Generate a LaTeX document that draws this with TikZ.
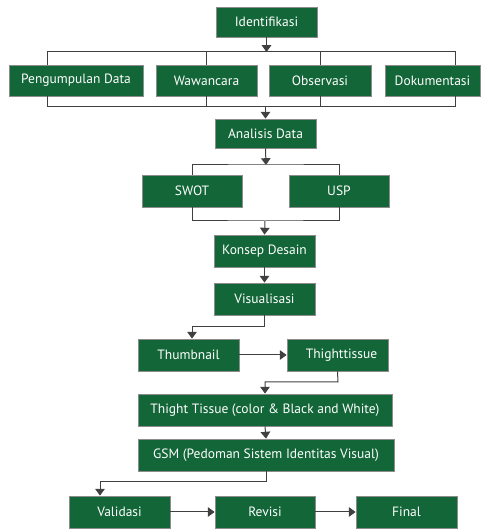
\documentclass[tikz,border=0pt]{standalone}
\usepackage{xcolor}
\usepackage{fontspec}
\setmainfont{PT Sans}
\usetikzlibrary{arrows.meta,calc,positioning}

\begin{document}
\begin{tikzpicture}[
    box/.style={draw=black!45, line width=0.02cm, fill=r16g100b55, text=white,
                minimum height=0.8cm, inner sep=0pt},
    conn/.style={draw=black!75, line width=0.025cm},
    arr/.style={-{Triangle[width=0.24cm,length=0.17cm]}}]
                    \useasboundingbox (0,0) rectangle (12.000000,13.275000);
                    % Changing color 16 100 55
                    \definecolor{r16g100b55}{rgb}{0.070000,0.400000,0.220000}%
                    {\fontsize{9.6}{11}\selectfont

                    % Marking box Identifikasi
                    \node [box, minimum width=2.525cm, minimum height=0.75cm] (ident) at (6.662500,12.725000) {Identifikasi};%

                    % Marking boxes of the data row
                    \node [box, minimum width=3.350000cm, minimum height=0.775cm] (kumpul) at (1.900000,11.262500) {Pengumpulan Data};%
                    \node [box, minimum width=2.525000cm, minimum height=0.775cm] (wawan) at (5.162500,11.262500) {Wawancara};%
                    \node [box, minimum width=2.550000cm, minimum height=0.775cm] (obs) at (8.000000,11.262500) {Observasi};%
                    \node [box, minimum width=2.375000cm, minimum height=0.775cm] (doku) at (10.812500,11.262500) {Dokumentasi};%

                    % Marking box Analisis Data
                    \node [box, minimum width=2.525000cm, minimum height=0.725cm] (analisis) at (6.637500,9.937500) {Analisis Data};%

                    % Marking boxes SWOT and USP
                    \node [box, minimum width=2.500000cm] (swot) at (4.800000,8.500000) {SWOT};%
                    \node [box, minimum width=2.500000cm] (usp) at (8.475000,8.500000) {USP};%

                    % Marking boxes Konsep Desain and Visualisasi
                    \node [box, minimum width=2.525000cm] (konsep) at (6.612500,7.000000) {Konsep Desain};%
                    \node [box, minimum width=2.525000cm] (visual) at (6.612500,5.800000) {Visualisasi};%

                    % Marking boxes Thumbnail and Thighttissue
                    \node [box, minimum width=2.525000cm] (thumb) at (4.712500,4.400000) {Thumbnail};%
                    \node [box, minimum width=2.525000cm] (tissue) at (8.437500,4.400000) {\hspace{0.2cm}Thighttissue};%

                    % Marking boxes Thight Tissue and GSM
                    \node [box, minimum width=6.350000cm] (warna) at (6.625000,3.025000) {Thight Tissue (color \& Black and White)};%
                    \node [box, minimum width=6.400000cm] (gsm) at (6.650000,1.900000) {GSM (Pedoman Sistem Identitas Visual)};%

                    % Marking boxes Validasi, Revisi and Final
                    \node [box, minimum width=2.525000cm] (valid) at (2.987500,0.475000) {Validasi};%
                    \node [box, minimum width=2.500000cm] (revisi) at (6.625000,0.475000) {Revisi};%
                    \node [box, minimum width=2.525000cm] (final) at (10.162500,0.475000) {Final};%
                    }

                    % Drawing upper bus of the data row
                    \coordinate (t1) at (1.175000,11.975000);%
                    \coordinate (t4) at (11.375000,11.975000);%
                    \draw [conn] (t1 |- kumpul.north) -- (t1) -- (t4) -- (t4 |- doku.north);%
                    \draw [conn] (wawan.north) -- (wawan.north |- t1);%
                    \draw [conn] (obs.north) -- (obs.north |- t1);%
                    \draw [conn, arr] (ident.south) -- (ident.south |- t1);%

                    % Drawing lower bus of the data row
                    \coordinate (b1) at (1.175000,10.600000);%
                    \coordinate (b4) at (11.375000,10.600000);%
                    \draw [conn] (t1 |- kumpul.south) -- (b1) -- (b4) -- (t4 |- doku.south);%
                    \draw [conn] (wawan.south) -- (wawan.south |- b1);%
                    \draw [conn] (obs.south) -- (obs.south |- b1);%
                    \draw [conn, arr] (analisis.north |- b1) -- (analisis.north);%

                    % Drawing fork to SWOT and USP
                    \coordinate (f1) at (6.650000,9.150000);%
                    \draw [conn] (swot.north) |- (f1) -| (usp.north);%
                    \draw [conn, arr] (analisis.south) -- (f1);%

                    % Drawing join to Konsep Desain
                    \coordinate (j1) at (6.625000,7.750000);%
                    \draw [conn] (swot.south) |- (j1) -| (usp.south);%
                    \draw [conn, arr] (j1) -- (konsep.north);%

                    % Drawing segment Konsep Desain Visualisasi
                    \draw [conn, arr] (konsep.south) -- (visual.north);%

                    % Drawing bend to Thumbnail
                    \coordinate (k1) at (6.612500,5.100000);%
                    \draw [conn, arr] (visual.south) -- (k1) -| ([xshift=0.0875cm]thumb.north);%

                    % Drawing segment Thumbnail Thighttissue
                    \draw [conn, arr] (thumb.east) -- (tissue.west);%

                    % Drawing bend to Thight Tissue
                    \coordinate (k2) at (8.450000,3.725000);%
                    \draw [conn, arr] (tissue.south) -- (k2) -| (warna.north);%

                    % Drawing segment Thight Tissue GSM
                    \draw [conn, arr] (warna.south) -- (gsm.north);%

                    % Drawing bend to Validasi
                    \coordinate (k3) at (6.650000,1.225000);%
                    \draw [conn, arr] (gsm.south) -- (k3) -| ([xshift=-0.4875cm]valid.north);%

                    % Drawing segments Validasi Revisi Final
                    \draw [conn, arr] (valid.east) -- (revisi.west);%
                    \draw [conn, arr] (revisi.east) -- (final.west);%
                    \color{black}
                \end{tikzpicture}
\end{document}
